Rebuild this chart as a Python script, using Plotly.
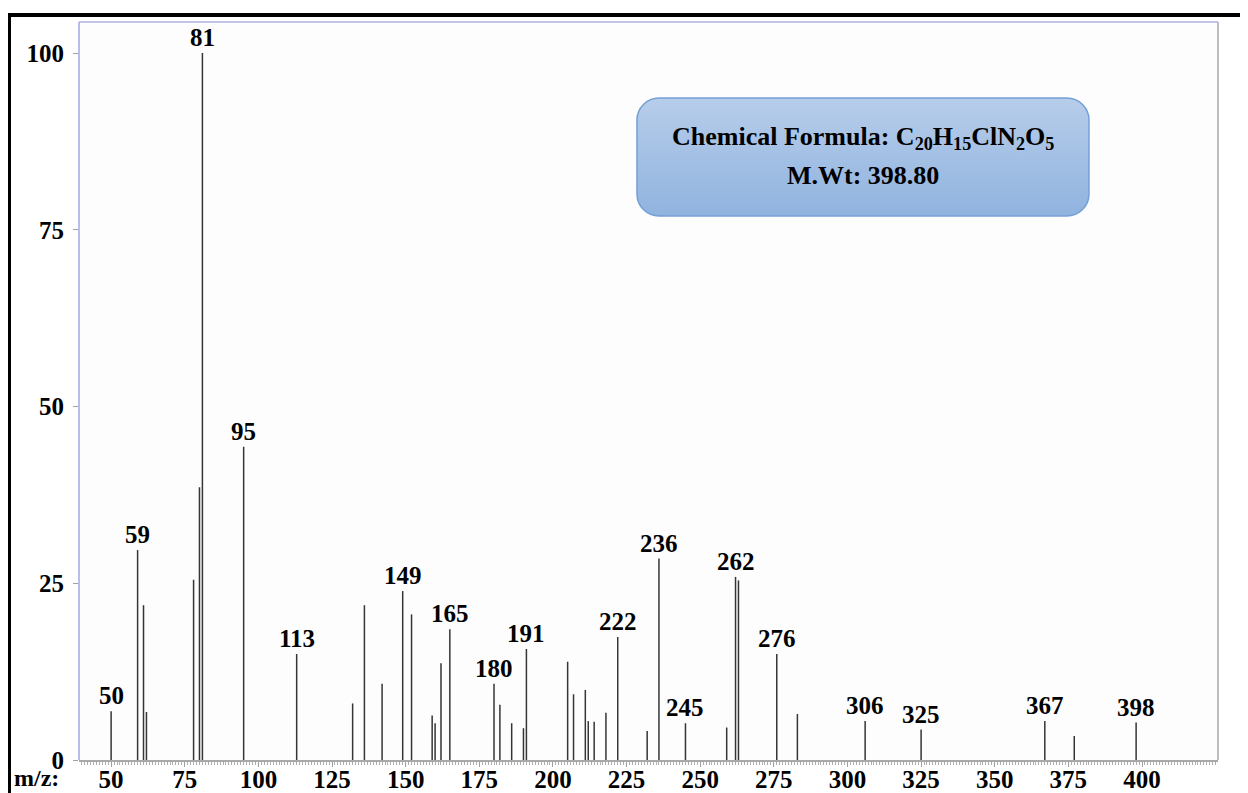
import base64
import plotly.graph_objects as go

# ---- data ----
mz = [50, 59, 61, 62, 78, 80, 81, 95, 113, 132, 136, 142, 149, 152, 159, 160, 162, 165,
      180, 182, 186, 190, 191, 205, 207, 211, 212, 214, 218, 222, 232, 236, 245, 259,
      262, 263, 276, 283, 306, 325, 367, 377, 398]
intensity = [6.9, 29.7, 21.9, 6.8, 25.5, 38.6, 100, 44.3, 15.0, 8.0, 21.9, 10.8, 23.9, 20.6,
             6.3, 5.2, 13.7, 18.5, 10.8, 7.8, 5.2, 4.5, 15.7, 13.9, 9.3, 9.9, 5.5, 5.4, 6.7,
             17.4, 4.1, 28.5, 5.2, 4.6, 25.9, 25.4, 15.0, 6.5, 5.5, 4.3, 5.5, 3.4, 5.3]
labelled_peaks = [50, 59, 81, 95, 113, 149, 165, 180, 191, 222, 236, 245, 262, 276, 306, 325, 367, 398]
x_ticks = [50, 75, 100, 125, 150, 175, 200, 225, 250, 275, 300, 325, 350, 375, 400]
y_ticks = [0, 25, 50, 75, 100]
formula_text = "Chemical Formula: C<sub>20</sub>H<sub>15</sub>ClN<sub>2</sub>O<sub>5</sub>"
mw_text = "M.Wt: 398.80"

FONT = "Liberation Serif"

# stick spectrum built from the data
xs, ys = [], []
for m, v in zip(mz, intensity):
    xs += [m, m, None]
    ys += [0, v, None]

fig = go.Figure()
fig.add_trace(go.Scatter(x=xs, y=ys, mode="lines",
                         line=dict(color="#353535", width=1.5),
                         hoverinfo="skip", showlegend=False))

lookup = dict(zip(mz, intensity))
for p in labelled_peaks:
    fig.add_annotation(x=p, y=lookup[p], text="<b>%d</b>" % p, showarrow=False,
                       xanchor="center", yanchor="bottom", yshift=0,
                       font=dict(family=FONT, size=25, color="black"))

# info box (gradient rounded rectangle)
svg = ('<svg xmlns="http://www.w3.org/2000/svg" width="454" height="120" viewBox="0 0 454 120" '
       'preserveAspectRatio="none"><defs><linearGradient id="g" x1="0" y1="0" x2="0" y2="1">'
       '<stop offset="0" stop-color="#b7cdea"/><stop offset="1" stop-color="#90b3df"/>'
       '</linearGradient></defs><rect x="1" y="1" width="452" height="118" rx="22" ry="22" '
       'fill="url(#g)" stroke="#74a0d6" stroke-width="1.5"/></svg>')
src = "data:image/svg+xml;base64," + base64.b64encode(svg.encode()).decode()
fig.add_layout_image(dict(source=src, xref="paper", yref="paper", x=0.489, y=0.8984,
                          sizex=0.3986, sizey=0.1626, xanchor="left", yanchor="top",
                          sizing="stretch", layer="above"))
fig.add_annotation(xref="paper", yref="paper", x=0.688, y=0.843, text="<b>" + formula_text + "</b>",
                   showarrow=False, xanchor="center", yanchor="middle",
                   font=dict(family=FONT, size=26, color="black"))
fig.add_annotation(xref="paper", yref="paper", x=0.688, y=0.792, text="<b>" + mw_text + "</b>",
                   showarrow=False, xanchor="center", yanchor="middle",
                   font=dict(family=FONT, size=26, color="black"))

# m/z: label
fig.add_annotation(xref="paper", yref="paper", x=-0.059, y=-0.025, text="<b>m/z:</b>",
                   showarrow=False, xanchor="left", yanchor="middle",
                   font=dict(family=FONT, size=24, color="black"))

# the page adds an 8 px body margin, so the figure is laid out 8 px smaller/shifted
W, H = 1240, 785
L, T = 71, 14
PW, PH = 1139, 738

def px(x):
    return (x - L) / PW

def py(y):
    return (T + PH - y) / PH

shapes = [
    dict(type="line", xref="paper", yref="paper", x0=0, x1=0, y0=0, y1=1,
         line=dict(color="#a3a7e6", width=1.5)),
    dict(type="line", xref="paper", yref="paper", x0=0, x1=1, y0=1, y1=1,
         line=dict(color="#b0b0e0", width=1.5)),
    dict(type="line", xref="paper", yref="paper", x0=1, x1=1, y0=0, y1=1,
         line=dict(color="#a8a8a8", width=1.5)),
    dict(type="rect", xref="paper", yref="paper",
         x0=px(1), x1=px(1238), y0=py(800), y1=py(7),
         line=dict(color="black", width=4), fillcolor="rgba(0,0,0,0)"),
]
fig.update_layout(shapes=shapes)

fig.update_layout(
    width=W, height=H,
    margin=dict(l=L, r=W - L - PW, t=T, b=H - T - PH, autoexpand=False),
    paper_bgcolor="white", plot_bgcolor="#fdfdfd",
    showlegend=False,
    xaxis=dict(range=[39.1, 425.8], tickvals=x_ticks, ticktext=["<b>%d</b>" % t for t in x_ticks],
               automargin=False, ticklabelstandoff=-9,
               showgrid=False, zeroline=False, showline=True, linecolor="#a8a8a8", linewidth=1.5,
               ticks="outside", ticklen=5, tickcolor="#a0a0a0", tickwidth=1,
               minor=dict(dtick=1, tick0=0, ticks="outside", ticklen=3, tickcolor="#b0b0b0", tickwidth=1),
               tickfont=dict(family=FONT, size=25, color="black")),
    yaxis=dict(range=[0, 104.4], tickvals=y_ticks, ticktext=["<b>%d</b>" % t for t in y_ticks],
               automargin=False, ticklabelstandoff=4,
               showgrid=False, zeroline=False, showline=False,
               ticks="outside", ticklen=5, tickcolor="#a0a0a0", tickwidth=1,
               tickfont=dict(family=FONT, size=25, color="black")),
)

fig.write_html("out.html")
